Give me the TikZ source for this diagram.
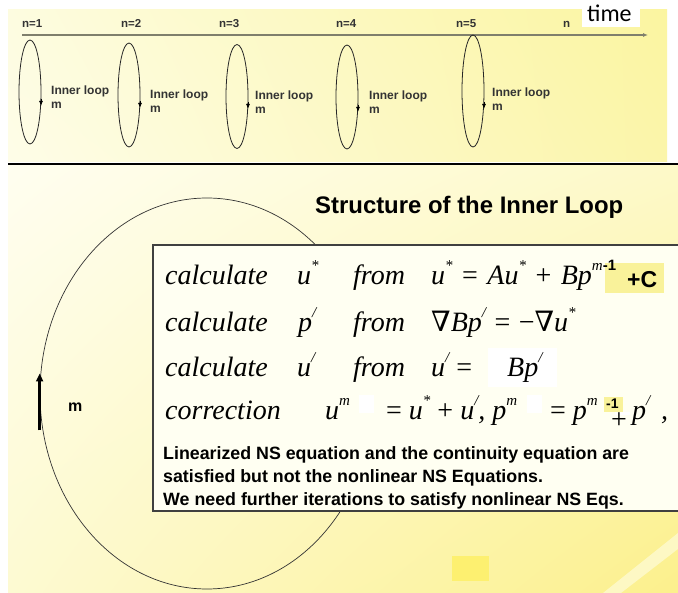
\documentclass[tikz,border=0pt]{standalone}
\usepackage{fontspec}
\setmainfont{Liberation Serif}
\setsansfont{Liberation Sans}
\newfontfamily\carlito{Carlito}
\newfontfamily\dvs{DejaVu Serif}
\usetikzlibrary{shapes.geometric,arrows.meta,calc,shadings}
\definecolor{tpUL}{HTML}{FDFCE0}
\definecolor{tpUR}{HTML}{FBF5A0}
\definecolor{tpLL}{HTML}{FEFDE8}
\definecolor{tpLR}{HTML}{FBF5AA}
\definecolor{bpUL}{HTML}{FFFEF0}
\definecolor{bpUR}{HTML}{FDF9C8}
\definecolor{bpLL}{HTML}{FDFAD2}
\definecolor{bpLR}{HTML}{FCF08C}
\definecolor{stripec}{HTML}{FDF8C4}
\definecolor{sqyellow}{HTML}{FDF070}
\definecolor{hlyellow}{HTML}{F9F29A}
\definecolor{boxfill}{HTML}{FFFFF2}
\definecolor{axisc}{HTML}{7F7F6C}
\definecolor{toptext}{HTML}{333333}
\newcommand{\sps}[1]{\raisebox{0.52em}{\fontsize{15}{15}\selectfont #1}}
\newcommand{\nb}{{\upshape\dvs ∇}}
\newcommand{\eqspa}{\hspace{9.5pt}}
\newcommand{\eqspb}{\hspace{8.5pt}}
\begin{document}
\begin{tikzpicture}[x=1pt,y=-1pt,
  eqtext/.style={anchor=base west,inner sep=0pt,font=\fontsize{28}{28}\selectfont\itshape},
  nlabel/.style={anchor=base west,inner sep=0pt,text=toptext,font=\sffamily\bfseries\fontsize{11.5}{11.5}\selectfont},
  looplabel/.style={anchor=base west,inner sep=0pt,text=toptext,font=\sffamily\bfseries\fontsize{12}{12}\selectfont},
  loopell/.style={draw=black!85,line width=0.8pt,ellipse,inner sep=0pt,minimum width=22pt},
  looparrow/.style={draw=black,line width=0.8pt,-{Latex[length=5pt,width=4pt]}},
  axisline/.style={draw=axisc,line width=1.8pt,-{Latex[length=5pt,width=4pt]}},
  bigell/.style={draw=black!80,line width=0.7pt,ellipse,inner sep=0pt,minimum width=334pt,minimum height=391pt},
  thickarrow/.style={draw=black,line width=2.6pt,-{Triangle[length=8pt,width=7pt]}},
  sanstext/.style={anchor=base west,inner sep=0pt,font=\sffamily\bfseries\fontsize{17.8}{17.8}\selectfont},
  hl/.style={fill=hlyellow},
  whitepatch/.style={fill=white}]
\clip (0,0) rectangle (678,593);
\fill[white] (0,0) rectangle (678,593);
% panels
\shade[upper left=tpUL,upper right=tpUR,lower left=tpLL,lower right=tpLR] (8,10) rectangle (667,162);
\shade[upper left=bpUL,upper right=bpUR,lower left=bpLL,lower right=bpLR] (8,166) rectangle (678,593);
\fill[stripec] (603,593) -- (621,593) -- (678,549) -- (678,533) -- cycle;
\fill[sqyellow] (452,556) rectangle (489,581);
\draw[line width=2pt,black] (8,164.5) -- (678,164.5);
% time label
\fill[white] (582,0) rectangle (640,27);
\node[anchor=base west,inner sep=0pt,font=\carlito\fontsize{24}{24}\selectfont] (time) at (587,22) {time};
% axis
\coordinate (ax0) at (22,35);
\coordinate (ax1) at (648,35);
\draw[axisline] (ax0) -- (ax1);
\node[nlabel] (n1) at (22,28) {n=1};
\node[nlabel] (n2) at (121,28) {n=2};
\node[nlabel] (n3) at (219,28) {n=3};
\node[nlabel] (n4) at (336,28) {n=4};
\node[nlabel] (n5) at (456,28) {n=5};
\node[nlabel] (nn) at (563,28) {n};
% inner loops
\foreach \cx/\cy/\ry/\k/\ay/\lx/\ly in {30/92/52/1/106/51/95, 129/95/52/2/108/150/99, 237/96.5/52/3/109/255/100, 347/97/52/4/112/369/100, 473/91/56/5/109/492/97}{
  \node[loopell,minimum height=2*\ry] (L\k) at (\cx,\cy) {};
  \draw[looparrow] ($(L\k.east)+(-0.4,{\ay-\cy-7})$) -- ($(L\k.east)+(-0.4,{\ay-\cy})$);
  \node[looplabel] (T\k) at (\lx,\ly) {Inner loop};
  \node[looplabel] (M\k) at (\lx,\ly+14) {m};
}
% big loop
\node[bigell] (big) at (207,393.5) {};
\draw[thickarrow] ($(big.west)+(0,37)$) -- ($(big.west)+(0,-20)$);
\node[anchor=base west,inner sep=0pt,font=\sffamily\bfseries\fontsize{16}{16}\selectfont] (mlab) at (68,412) {m};
% title
\node[anchor=base west,inner sep=0pt,font=\sffamily\bfseries\fontsize{23.9}{23.9}\selectfont] (title) at (315,214) {Structure of the Inner Loop};
% box
\draw[draw=black!75,line width=1.4pt,fill=boxfill] (153,245) rectangle (700,511);
% row 1
\fill[hl] (605,263) rectangle (664,293);
\node[eqtext] (r1a) at (165,285) {calculate};
\node[eqtext] (r1b) at (297,285) {u\sps{*}};
\node[eqtext] (r1c) at (353,285) {from};
\node[eqtext] (r1d) at (431,285) {u\sps{*}\eqspa{\upshape=}\eqspa Au\sps{*}\eqspa{\upshape+}\eqspa Bp\sps{m{\upshape\sffamily\bfseries -1}}};
\node[anchor=base west,inner sep=0pt,font=\sffamily\bfseries\fontsize{23}{23}\selectfont] (r1e) at (627,288) {+C};
% row 2
\node[eqtext] (r2a) at (165,332) {calculate};
\node[eqtext] (r2b) at (298,332) {p\sps{/}};
\node[eqtext] (r2c) at (353,332) {from};
\node[eqtext] (r2d) at (431,332) {\nb Bp\sps{/}\eqspb{\upshape=}\eqspb{\upshape −}\nb u\sps{*}};
% row 3
\node[eqtext] (r3a) at (165,377) {calculate};
\node[eqtext] (r3b) at (297,377) {u\sps{/}};
\node[eqtext] (r3c) at (353,377) {from};
\node[eqtext] (r3d) at (431,377) {u\sps{/} {\upshape=}};
\fill[whitepatch] (488,348) rectangle (557,387);
\node[eqtext] (r3e) at (507,377) {Bp\sps{/}};
% row 4
\node[eqtext] (r4a) at (165,420) {correction};
\node[eqtext] (r4b) at (325,420) {u\sps{m}};
\fill[whitepatch] (359,395) rectangle (374,413);
\node[eqtext] (r4c) at (386,420) {{\upshape=} u\sps{*} {\upshape+} u\sps{/}, p\sps{m}};
\fill[whitepatch] (527,395) rectangle (542,413);
\node[eqtext] (r4d) at (550,420) {{\upshape=} p\sps{m}};
\fill[hl] (604,397) rectangle (623,412);
\node[anchor=base west,inner sep=0pt,font=\sffamily\bfseries\fontsize{14}{14}\selectfont] (r4e) at (606,409) {-1};
\fill[whitepatch] (615,412) rectangle (630,415);
\node[eqtext,font=\fontsize{28}{28}\selectfont] (r4f) at (611,429) {+};
\node[eqtext] (r4g) at (632,420) {p\sps{/}};
\node[eqtext] (r4h) at (661,420) {,};
% text lines
\node[sanstext] (s1) at (163,460) {Linearized NS equation and the continuity equation are};
\node[sanstext] (s2) at (163,483) {satisfied but not the nonlinear NS Equations.};
\node[sanstext] (s3) at (163,506) {We need further iterations to satisfy nonlinear NS Eqs.};
\end{tikzpicture}
\end{document}
